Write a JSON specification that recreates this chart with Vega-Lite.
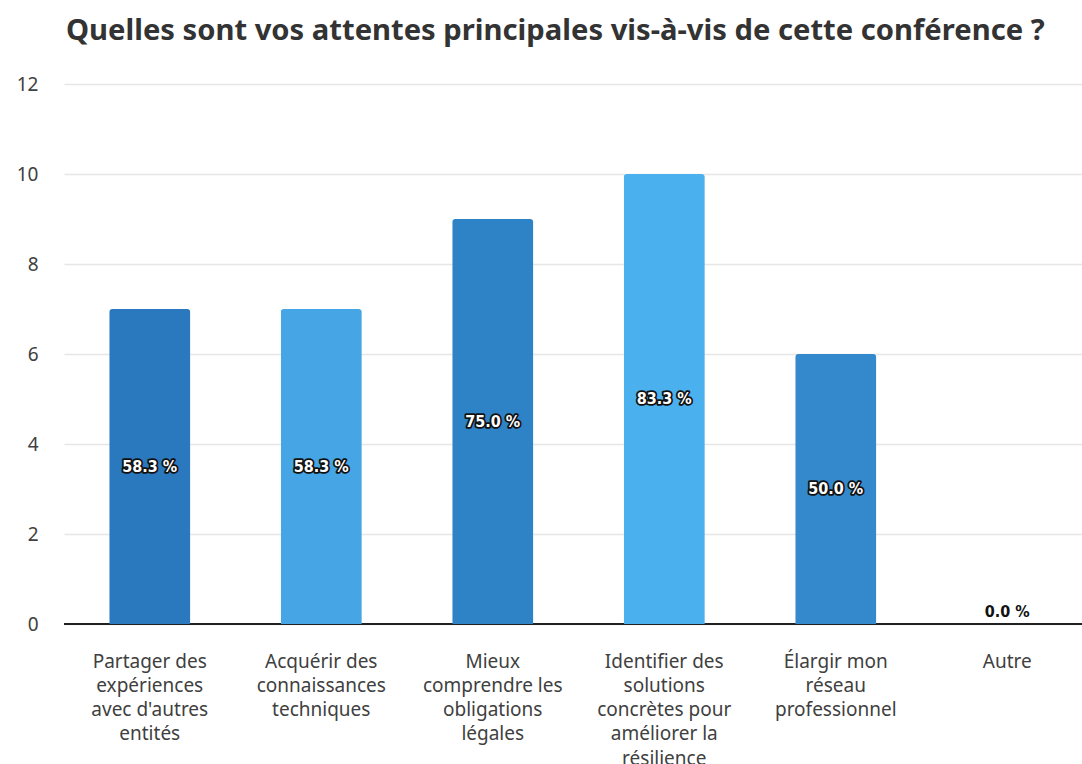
{
  "$schema": "https://vega.github.io/schema/vega-lite/v6.json",
  "width": 1018,
  "height": 540,
  "autosize": "none",
  "padding": {"left": 64, "top": 84, "right": 0, "bottom": 140},
  "background": "white",
  "view": {"stroke": null},
  "title": {
    "text": "Quelles sont vos attentes principales vis-à-vis de cette conférence ?",
    "anchor": "start",
    "frame": "group",
    "font": "Noto Sans",
    "fontSize": 29.2,
    "fontWeight": "bold",
    "color": "#333333",
    "baseline": "alphabetic",
    "offset": 6,
    "dx": 2
  },
  "data": {
    "values": [
      {"option": "Partager des|expériences|avec d'autres|entités", "count": 7, "pct": "58.3 %"},
      {"option": "Acquérir des|connaissances|techniques", "count": 7, "pct": "58.3 %"},
      {"option": "Mieux|comprendre les|obligations|légales", "count": 9, "pct": "75.0 %"},
      {"option": "Identifier des|solutions|concrètes pour|améliorer la|résilience", "count": 10, "pct": "83.3 %"},
      {"option": "Élargir mon|réseau|professionnel", "count": 6, "pct": "50.0 %"},
      {"option": "Autre", "count": 0, "pct": "0.0 %"}
    ]
  },
  "encoding": {
    "x": {
      "field": "option",
      "type": "nominal",
      "sort": null,
      "scale": {"range": [0, 1029], "paddingInner": 0.527, "paddingOuter": 0.2635},
      "axis": {
        "title": null,
        "labelAngle": 0,
        "labelExpr": "split(datum.label, '|')",
        "labelFont": "Noto Sans",
        "labelFontSize": 19,
        "labelColor": "#404040",
        "labelLineHeight": 24.3,
        "labelBaseline": "top",
        "labelPadding": 28,
        "labelLimit": 300,
        "ticks": false,
        "domain": false,
        "grid": false
      }
    }
  },
  "layer": [
    {
      "mark": {"type": "rule", "color": "#222222", "strokeWidth": 1.5},
      "encoding": {"x": null, "y": {"datum": 0, "type": "quantitative"}}
    },
    {
      "mark": {"type": "bar", "cornerRadiusTopLeft": 3, "cornerRadiusTopRight": 3},
      "encoding": {
        "y": {
          "field": "count",
          "type": "quantitative",
          "scale": {"domain": [0, 12], "nice": false},
          "axis": {
            "title": null,
            "values": [0, 2, 4, 6, 8, 10, 12],
            "labelFont": "Noto Sans",
            "labelFontSize": 19,
            "labelColor": "#404040",
            "labelPadding": 26,
            "ticks": false,
            "domain": false,
            "grid": true,
            "gridColor": "#e6e6e6",
            "gridWidth": 1.5
          }
        },
        "color": {
          "field": "option",
          "type": "nominal",
          "sort": null,
          "legend": null,
          "scale": {"range": ["#2a78bd", "#46a6e5", "#2e82c6", "#4bb0ee", "#3489cd", "#3489cd"]}
        }
      }
    },
    {
      "transform": [{"filter": "datum.count > 0"}, {"calculate": "datum.count / 2", "as": "mid"}],
      "mark": {"type": "text", "font": "DejaVu Sans Condensed", "fontWeight": "bold", "fontSize": 16, "fill": "#111111", "stroke": "#111111", "strokeWidth": 3.5, "strokeJoin": "round", "baseline": "middle"},
      "encoding": {"y": {"field": "mid", "type": "quantitative"}, "text": {"field": "pct"}}
    },
    {
      "transform": [{"filter": "datum.count > 0"}, {"calculate": "datum.count / 2", "as": "mid"}],
      "mark": {"type": "text", "font": "DejaVu Sans Condensed", "fontWeight": "bold", "fontSize": 16, "fill": "white", "baseline": "middle"},
      "encoding": {"y": {"field": "mid", "type": "quantitative"}, "text": {"field": "pct"}}
    },
    {
      "transform": [{"filter": "datum.count == 0"}],
      "mark": {"type": "text", "font": "DejaVu Sans Condensed", "fontWeight": "bold", "fontSize": 16, "fill": "#111111", "baseline": "middle", "dy": -12},
      "encoding": {"y": {"field": "count", "type": "quantitative"}, "text": {"field": "pct"}}
    }
  ]
}
